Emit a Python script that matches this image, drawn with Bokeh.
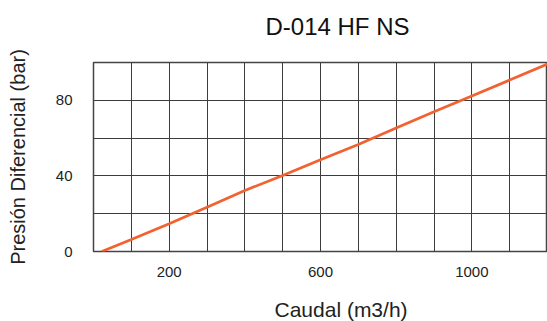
from bokeh.plotting import figure
from bokeh.models import Range1d, FixedTicker, Title
from bokeh.embed import file_html
from bokeh.resources import INLINE

# Data
flow = [22, 100, 200, 300, 400, 500, 600, 700, 800, 900, 1000, 1100, 1200]
pressure = [0, 6.4, 14.7, 23.4, 32.3, 40.2, 48.5, 56.6, 65.3, 73.9, 82.3, 90.7, 99.2]
x_tick_labels = [200, 600, 1000]
y_tick_labels = [0, 40, 80]
x_grid = list(range(0, 1300, 100))
y_grid = list(range(0, 120, 20))

title_text = "D-014 HF NS"
x_label_text = "Caudal (m3/h)"
y_label_text = "Presión Diferencial (bar)"

FONT = "Liberation Sans"

p = figure(width=547, height=321, output_backend="svg", toolbar_location=None,
           title=None,
           x_range=Range1d(0, 1200), y_range=Range1d(0, 100),
           min_border_left=93, min_border_right=0, min_border_top=62, min_border_bottom=69)

p.line(flow, pressure, line_color="#F26130", line_width=2.7)

for ax in (p.xaxis[0], p.yaxis[0]):
    ax.axis_line_color = None
    ax.major_tick_line_color = None
    ax.minor_tick_line_color = None
    ax.major_label_text_font = FONT
    ax.major_label_text_font_size = "15px"
    ax.major_label_text_color = "#222222"
    ax.axis_label_text_font = FONT
    ax.axis_label_text_font_size = "20px"
    ax.axis_label_text_font_style = "normal"
    ax.axis_label_text_color = "#222222"

p.xaxis.ticker = FixedTicker(ticks=x_tick_labels)
p.yaxis.ticker = FixedTicker(ticks=y_tick_labels)
p.yaxis.axis_label = y_label_text
p.xaxis.major_label_standoff = 9
p.yaxis.major_label_standoff = 15
p.yaxis.axis_label_standoff = 24

# spacer (closest to the frame), then the title
p.add_layout(Title(text=" ", text_font_size="1px", standoff=15), "above")
p.add_layout(Title(text=title_text, text_font=FONT, text_font_size="24px",
                   text_font_style="normal", text_color="#111111",
                   align="left", offset=172, standoff=10), "above")

# spacer below the tick labels, then the x-axis label
p.add_layout(Title(text=" ", text_font_size="1px", standoff=12), "below")
p.add_layout(Title(text=x_label_text, text_font=FONT, text_font_size="21px",
                   text_font_style="normal", text_color="#222222",
                   align="left", offset=181, standoff=2), "below")

p.xgrid.ticker = FixedTicker(ticks=x_grid)
p.ygrid.ticker = FixedTicker(ticks=y_grid)
for g in (p.xgrid[0], p.ygrid[0]):
    g.grid_line_color = "#3c3c3c"
    g.grid_line_width = 1
    g.grid_line_alpha = 1

p.outline_line_color = "#444444"
p.outline_line_width = 1.5
p.background_fill_color = "white"
p.border_fill_color = "white"

open("out.html", "w").write(file_html(p, INLINE))
